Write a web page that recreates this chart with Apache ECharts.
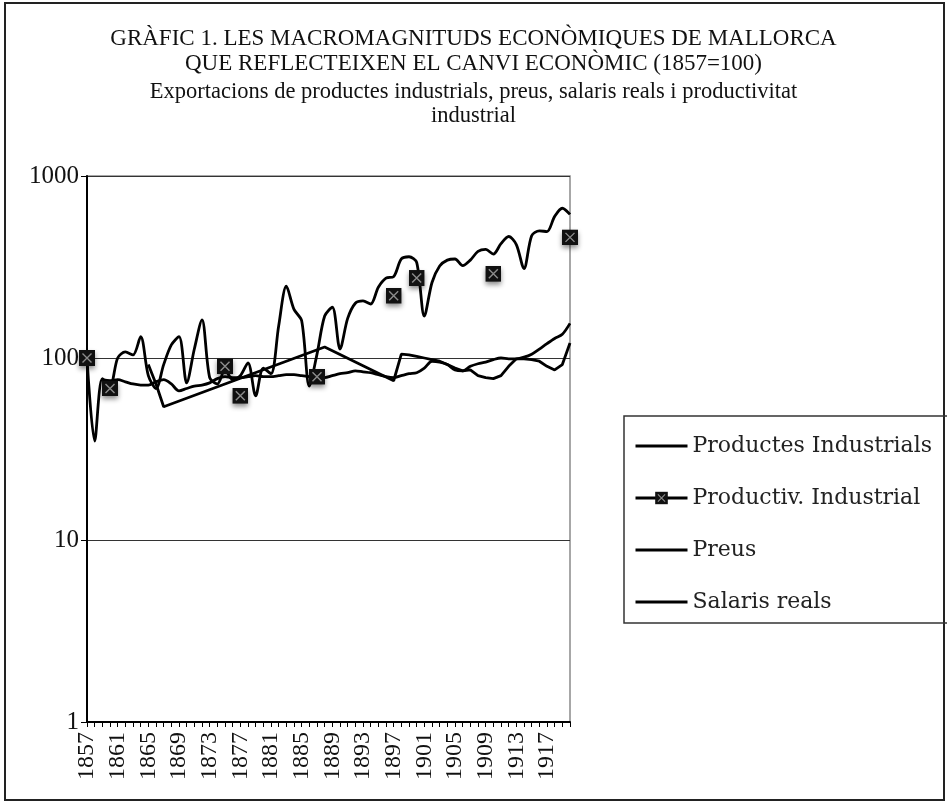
<!DOCTYPE html>
<html>
<head>
<meta charset="utf-8">
<title>Gràfic 1</title>
<script src="https://cdn.jsdelivr.net/npm/echarts/dist/echarts.min.js"></script>
<style>
	html, body { margin: 0; padding: 0; background: #fff; }
	#grafic { width: 947px; height: 803px; }
</style>
</head>
<body>
<div id="grafic"></div>
<script>
var anys = [1857,1858,1859,1860,1861,1862,1863,1864,1865,1866,1867,1868,1869,1870,1871,1872,
	1873,1874,1875,1876,1877,1878,1879,1880,1881,1882,1883,1884,1885,1886,1887,1888,
	1889,1890,1891,1892,1893,1894,1895,1896,1897,1898,1899,1900,1901,1902,1903,1904,
	1905,1906,1907,1908,1909,1910,1911,1912,1913,1914,1915,1916,1917,1918,1919,1920];

// exportacions de productes industrials
var productes = [100,35,77,70,100,108,104,131,80,68,92,118,131,73,112,162,
	78,72,86,76,80,94,62,88,82,150,248,185,160,70,105,170,
	190,112,165,200,206,198,245,275,280,350,360,335,170,260,320,345,
	350,322,345,385,395,372,425,465,420,310,470,500,495,600,665,615];

// productivitat industrial (nomes alguns anys)
var productivitat = [100,null,null,68,null,null,null,null,null,null,null,null,null,null,null,null,
	null,null,90,null,62,null,null,null,null,null,null,null,null,null,79,null,
	null,null,null,null,null,null,null,null,220,null,null,275,null,null,null,null,
	null,null,null,null,null,290,null,null,null,null,null,null,null,null,null,460];

var preus = [null,null,null,null,null,null,null,null,92,72,54,null,null,null,null,null,
	null,null,null,null,null,null,null,null,null,null,null,null,null,null,null,115,
	null,null,null,null,null,null,null,null,75,105,104,102,100,98,96,92,
	88,85,86,80,78,77,80,90,99,99,98,96,90,86,92,121];

var salaris = [null,null,76,75,76,74,72,71,71,74,76,72,66,68,70,71,
	73,77,79,78,78,79,80,79,79,80,81,81,80,79,78,78,
	80,82,83,85,84,83,81,79,78,80,82,83,88,96,95,92,
	86,85,90,93,95,98,100,99,99,101,105,112,120,128,135,155];

var marcaSvg = '<svg xmlns="http://www.w3.org/2000/svg" width="16" height="16">' +
	'<rect width="16" height="16" fill="#111"/>' +
	'<path d="M3.5 3.5L12.5 12.5M12.5 3.5L3.5 12.5" stroke="#8c8c8c" stroke-width="1.4"/></svg>';
var marca = 'image://data:image/svg+xml;charset=utf-8,' + encodeURIComponent(marcaSvg);

function liniaNegra(nom, dades, suau){
	return {
		name: nom,
		type: 'line',
		data: dades,
		smooth: suau,
		symbol: 'none',
		connectNulls: true,
		lineStyle: {color: '#000', width: 2.8},
		itemStyle: {color: '#000'}
	};
}

function dibuixaGrafic(){
	var chart = echarts.init(document.getElementById('grafic'));
	var serif = 'Liberation Serif';
	var senseMarca = {opacity: 0};
	var liniaLlegenda = {color: '#000', width: 3};
	var option = {
		animation: false,
		backgroundColor: '#fff',
		title: {
			text: 'GRÀFIC 1. LES MACROMAGNITUDS ECONÒMIQUES DE MALLORCA\nQUE REFLECTEIXEN EL CANVI ECONÒMIC (1857=100)',
			subtext: 'Exportacions de productes industrials, preus, salaris reals i productivitat\nindustrial',
			left: 'center',
			top: 21,
			itemGap: 4,
			textStyle: {fontFamily: serif, fontSize: 23, fontWeight: 'normal', color: '#111', lineHeight: 25},
			subtextStyle: {fontFamily: serif, fontSize: 22.5, color: '#111', lineHeight: 24}
		},
		graphic: [
			{type: 'rect', shape: {x: 5, y: 3, width: 939, height: 797}, style: {fill: 'none', stroke: '#222', lineWidth: 2}, z: 0},
			{type: 'rect', shape: {x: 624, y: 416, width: 330, height: 207}, style: {fill: 'none', stroke: '#333', lineWidth: 1.5}, z: 0}
		],
		legend: {
			orient: 'vertical',
			left: 629,
			top: 429,
			itemWidth: 52,
			itemHeight: 16,
			itemGap: 28,
			textStyle: {fontFamily: 'DejaVu Serif', fontSize: 22, color: '#222', lineHeight: 24},
			data: [
				{name: 'Productes Industrials', itemStyle: senseMarca, lineStyle: liniaLlegenda},
				{name: 'Productiv. Industrial', lineStyle: liniaLlegenda},
				{name: 'Preus', itemStyle: senseMarca, lineStyle: liniaLlegenda},
				{name: 'Salaris reals', itemStyle: senseMarca, lineStyle: liniaLlegenda}
			]
		},
		grid: {
			left: 87, right: 377, top: 176, bottom: 81,
			show: true, borderColor: '#8a8a8a', borderWidth: 1.5
		},
		xAxis: {
			type: 'category',
			data: anys,
			boundaryGap: false,
			axisLine: {lineStyle: {color: '#000', width: 2}},
			axisTick: {interval: 0, length: 5, lineStyle: {color: '#000'}},
			axisLabel: {interval: 3, rotate: 90, margin: 10, fontFamily: serif, fontSize: 24, color: '#111'},
			splitLine: {show: false}
		},
		yAxis: {
			type: 'log',
			logBase: 10,
			min: 1,
			max: 1000,
			axisLine: {show: true, lineStyle: {color: '#000', width: 2}},
			axisTick: {show: true, length: 6, lineStyle: {color: '#000'}},
			axisLabel: {
				fontFamily: serif, fontSize: 25, color: '#111', margin: 8,
				formatter: function(v){ return String(v); }
			},
			splitLine: {lineStyle: {color: '#333', width: 1}}
		},
		series: [
			liniaNegra('Productes Industrials', productes, 0.3),
			{
				name: 'Productiv. Industrial',
				type: 'line',
				data: productivitat,
				connectNulls: false,
				symbol: marca,
				symbolSize: 16,
				showAllSymbol: true,
				lineStyle: {color: '#000', width: 2.8},
				itemStyle: {color: '#000', shadowBlur: 5, shadowColor: 'rgba(0,0,0,0.45)', shadowOffsetY: 3},
				z: 5
			},
			liniaNegra('Preus', preus, false),
			liniaNegra('Salaris reals', salaris, 0.3)
		]
	};
	chart.setOption(option);
}

dibuixaGrafic();
</script>
</body>
</html>
